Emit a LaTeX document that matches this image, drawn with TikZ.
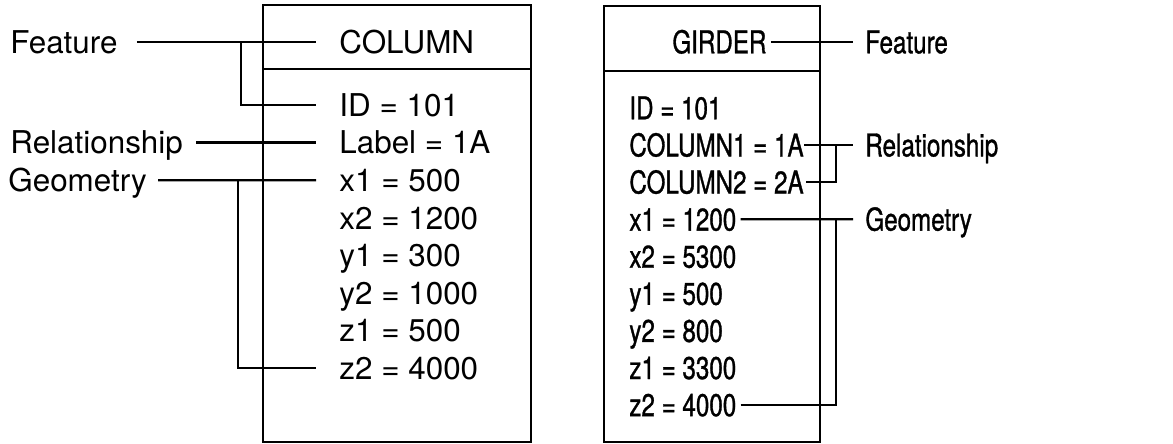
\documentclass[tikz,border=0pt]{standalone}
\usepackage{fontspec}
\setmainfont{TeX Gyre Heros}
\newfontfamily\narrowhv[FakeStretch=0.77,FakeBold=1]{TeX Gyre Heros}

\begin{document}
\begin{tikzpicture}[x=0.5pt,y=-0.5pt,
  frame/.style={line width=1.4pt},
  lead/.style={line width=1.1pt},
  txt/.style={anchor=west,inner sep=0pt,text height=11.3pt,text depth=0pt,font=\fontsize{15.7}{18}\selectfont},
  ntxt/.style={txt,font=\fontsize{15.7}{18}\narrowhv}]
  \useasboundingbox (0,0) rectangle (1173,444);
  % Record boxes
  \draw[frame] (263,5) rectangle (531,442);
  \draw[frame] (263,69) -- (531,69);
  \draw[frame] (604,6) rectangle (820,442);
  \draw[frame] (604,71) -- (820,71);
  % Column record
  \node[txt] (colL) at (339,42) {COLUMN};
  \foreach \t [count=\i from 0] in {ID = 101,Label = 1A,x1 = 500,x2 = 1200,y1 = 300,y2 = 1000,z1 = 500,z2 = 4000}
    \node[txt] (L\i) at (339,{105+37.6*\i}) {\t};
  % Girder record
  \node[ntxt] (girR) at (672,42) {GIRDER};
  \foreach \t [count=\i from 0] in {ID = 101,COLUMN1 = 1A,COLUMN2 = 2A,x1 = 1200,x2 = 5300,y1 = 500,y2 = 800,z1 = 3300,z2 = 4000}
    \node[ntxt] (R\i) at (629,{108+37.1*\i}) {\t};
  % Labels
  \node[txt] (featL) at (10,42) {Feature};
  \node[txt] (relL) at (10,142.6) {Relationship};
  \node[txt] (geoL) at (8,180.2) {Geometry};
  \node[ntxt] (featR) at (865,42) {Feature};
  \node[ntxt] (relR) at (865,145.1) {Relationship};
  \node[ntxt] (geoR) at (865,219.3) {Geometry};
  \coordinate (kF) at (241,0);
  \coordinate (kG) at (238,0);
  \coordinate (kR) at (836,0);
  % Leaders, left
  \draw[lead,shorten <=9.5pt,shorten >=11.5pt] (featL.east) -- (colL.west);
  \draw[lead,shorten >=11.5pt] (colL.west -| kF) -- (L0.west -| kF) -- (L0.west);
  \draw[lead,shorten <=6.5pt,shorten >=11.5pt] (relL.east) -- (L1.west);
  \draw[lead,shorten <=5.5pt,shorten >=11.5pt] (geoL.east) -- (L2.west);
  \draw[lead,shorten >=11.5pt] (L2.west -| kG) -- (L7.west -| kG) -- (L7.west);
  % Leaders, right
  \draw[lead,shorten <=2pt,shorten >=6pt] (girR.east) -- (featR.west);
  \draw[lead,shorten >=6pt] (R1.east) -- (relR.west);
  \draw[lead,shorten <=1pt] (R2.east) -- (R2.east -| kR) -- (R1.east -| kR);
  \draw[lead,shorten <=2pt,shorten >=6pt] (R3.east) -- (geoR.west);
  \draw[lead,shorten <=2pt] (R8.east) -- (R8.east -| kR) -- (R3.east -| kR);
\end{tikzpicture}
\end{document}
